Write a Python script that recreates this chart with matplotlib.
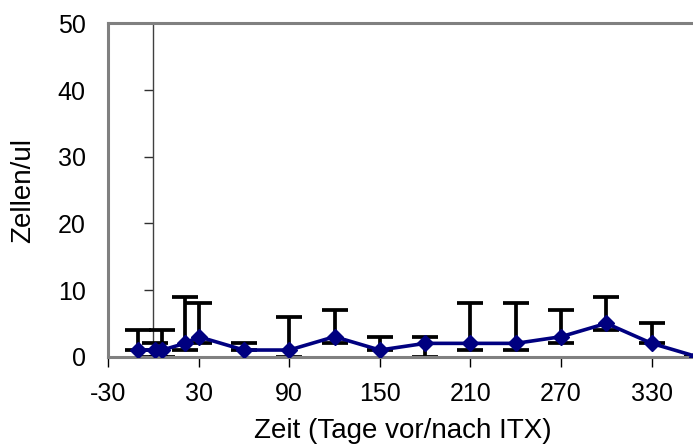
import matplotlib
matplotlib.use("Agg")
import matplotlib.pyplot as plt

# Zellzahl vor/nach ITX, Median mit Spannweite
tage = [-10, 1, 6, 21, 30, 60, 90, 120, 150, 180, 210, 240, 270, 300, 330, 360]
zellen = [1, 1, 1, 2, 3, 1, 1, 3, 1, 2, 2, 2, 3, 5, 2, 0]
untere = [1, 0, 0, 1, 2, 1, 0, 2, 1, 0, 1, 1, 2, 4, 2, 0]
obere = [4, 2, 4, 9, 8, 2, 6, 7, 3, 3, 8, 8, 7, 9, 5, 0]

x_ticks = [-30, 30, 90, 150, 210, 270, 330]
y_ticks = [0, 10, 20, 30, 40, 50]

plt.rcParams['font.family'] = ['Liberation Sans', 'DejaVu Sans']
plt.rcParams['axes.unicode_minus'] = False

fig = plt.figure(figsize=(6.93, 4.48), dpi=100)
ax = fig.add_axes([0.1558, 0.2038, 0.850, 0.744])

err_minus = [z - u for z, u in zip(zellen, untere)]
err_plus = [o - z for z, o in zip(zellen, obere)]
ax.errorbar(tage, zellen, yerr=[err_minus, err_plus], fmt='none',
            ecolor='black', elinewidth=2.7, capsize=9.5, capthick=2.7, zorder=2)
ax.plot(tage, zellen, color='#000080', lw=2.6, marker='D', markersize=8.4,
        zorder=3)

ax.set_xlim(-30, 360)
ax.set_ylim(0, 50)
ax.set_xticks(x_ticks)
ax.set_yticks(y_ticks)

# Rahmen der Zeichenfläche
frame = '#808080'
for side in ['left', 'top', 'bottom']:
    ax.spines[side].set_color(frame)
    ax.spines[side].set_linewidth(2.2)
ax.spines['right'].set_visible(False)

ax.tick_params(axis='x', direction='out', length=7, width=1, color='black',
               labelsize=18, pad=11.5)
ax.tick_params(axis='y', length=0, labelsize=18, pad=16)

# Größenachse kreuzt bei Tag 0
y_axis = ax.secondary_yaxis(30 / 390)
y_axis.set_yticks(y_ticks)
y_axis.tick_params(direction='out', length=6.5, width=1, color='#303030',
                   labelleft=False)
y_axis.spines['left'].set_color('#404040')
y_axis.spines['left'].set_linewidth(1)

ax.set_xlabel('Zeit (Tage vor/nach ITX)', fontsize=20, va='center')
ax.set_ylabel('Zellen/ul', fontsize=20, va='center')
ax.xaxis.set_label_coords(0.5, -0.223)
ax.yaxis.set_label_coords(-0.1443, 0.5)

fig.savefig('out.png', dpi=100)
